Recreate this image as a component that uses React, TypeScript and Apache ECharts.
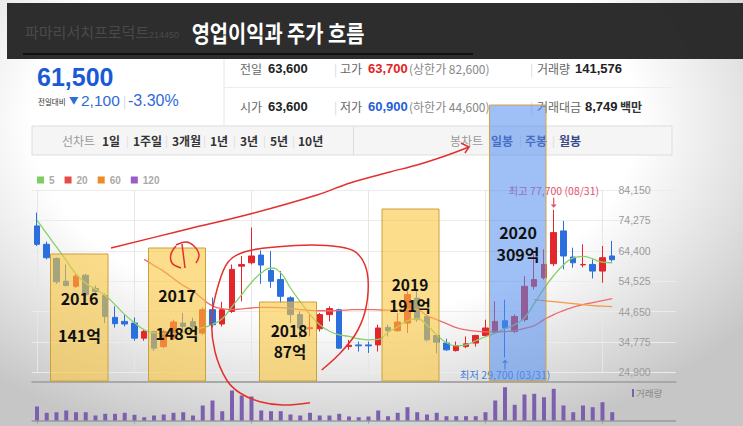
import React, { useEffect, useRef } from 'react';
import * as echarts from 'echarts';

// ---------- data ----------
const months = [
  '2016.03','2016.04','2016.05','2016.06','2016.07','2016.08','2016.09','2016.10','2016.11','2016.12',
  '2017.01','2017.02','2017.03','2017.04','2017.05','2017.06','2017.07','2017.08','2017.09','2017.10','2017.11','2017.12',
  '2018.01','2018.02','2018.03','2018.04','2018.05','2018.06','2018.07','2018.08','2018.09','2018.10','2018.11','2018.12',
  '2019.01','2019.02','2019.03','2019.04','2019.05','2019.06','2019.07','2019.08','2019.09','2019.10','2019.11','2019.12',
  '2020.01','2020.02','2020.03','2020.04','2020.05','2020.06','2020.07','2020.08','2020.09','2020.10','2020.11','2020.12',
  '2021.01','2021.02',
];
const padCats = ['p1', 'p2', 'p3', 'p4', 'p5', 'p6'];
const yearMarks = ['2016.03', '2017.01', '2018.01', '2019.01', '2020.01', '2021.01'];

const openP = [72480,66500,61900,54500,52850,56450,52100,49850,42750,41450,
  40900,36000,38150,33250,36000,40900,41350,37650,45250,40600,44700,59400,
  60500,63000,58000,55050,49100,43650,39050,39050,43650,45250,33250,33800,
  33800,33800,39500,38400,40900,49000,43050,36850,34400,31950,33250,34400,
  36850,37950,41650,38150,42000,52850,55600,60200,70850,62350,59800,59950,
  57800,62700];
const closeP = [66500,62150,54300,53100,56150,50150,51150,43050,40700,40600,
  36000,38150,32750,38150,41250,39800,39700,45250,40350,45250,58350,59950,
  62700,59750,54500,49600,43650,39300,39400,43650,45600,32750,33700,33500,
  33500,39300,38400,41250,50150,42000,35450,34700,32200,33600,34150,36850,
  39300,41450,39300,43050,52850,55050,59950,70300,62700,60500,59950,57800,
  62150,61500];
const lowP = [65950,61600,53650,52850,52350,49600,49850,40900,39450,39800,
  35150,35150,31850,32750,35450,38150,38050,37100,39400,39800,44200,47950,
  59950,53650,52350,47450,40900,36000,36550,38150,41450,32500,32200,31650,
  31200,31650,36550,38150,37650,41350,34900,31100,31850,31650,32750,33250,
  36550,37300,29700,37650,41350,51800,55050,59400,58350,58900,59000,55400,
  54000,60900];
const highP = [76800,67400,62200,59950,56900,56900,53100,50500,46350,43650,
  42750,38700,38400,38700,42000,44200,42650,45900,49200,47800,59950,62700,
  71950,64550,64300,57800,49600,44700,44200,44200,46350,45600,35450,34900,
  34900,40350,40350,44200,51250,52000,43650,37100,35800,34900,36550,37100,
  42000,47950,48500,43650,56150,63250,64850,77700,74100,65400,66500,61600,
  65950,67600];
const volume = [140000,77000,83000,100000,83000,83000,50000,67000,67000,77000,
  57000,33000,50000,60000,77000,83000,50000,150000,200000,93000,
  300000,250000,240000,100000,93000,93000,60000,50000,77000,50000,
  50000,67000,40000,33000,40000,100000,43000,77000,133000,83000,
  60000,77000,43000,43000,43000,43000,83000,200000,333000,157000,
  260000,267000,233000,317000,150000,83000,150000,133000,183000,83000];

const ma5 = [74350,69950,65650,61250,56850,53850,51950,49850,46900,43650,
  41000,38700,37750,37400,37550,37900,38800,39400,40500,42300,
  46250,50150,54100,57200,58800,57200,52300,47850,43650,40350,
  38250,37100,36550,35800,35450,35600,37900,39700,41650,42300,
  40200,37100,34500,33500,33800,35150,36450,37600,39050,40350,
  42650,47200,52100,56350,59800,62100,62600,61750,60700,60500];
const ma20 = [null,null,null,null,null,null,null,null,null,null,null,
  61600,59650,57700,55400,53100,51300,48700,46500,45600,45300,
  45500,45800,46000,46000,45900,45600,45300,45000,44900,44900,
  45000,45200,45300,45300,45200,45100,45200,45400,45300,43300,
  42000,40700,39400,38700,38250,38050,38050,38150,38400,39200,
  40050,42000,43650,44950,46100,46900,47550,48200,48850];
const ma60 = [null,null,null,null,null,null,null,null,null,null,
  null,null,null,null,null,null,null,null,null,null,
  null,null,null,null,null,null,null,null,null,null,
  null,null,null,null,null,null,null,null,null,null,
  null,null,null,null,null,null,null,null,null,null,
  null,48550,48200,47850,47550,47200,46900,46550,46400,46250];

const priceMin = 24900;
const priceMax = 84150;
const priceStep = 9875;
const hiDate = '08/31';
const loDate = '03/31';

// ---------- helpers ----------
const KR = '"Noto Sans CJK KR", "Noto Sans", sans-serif';
const NUM = '"Liberation Sans", Arial, sans-serif';
const fmt = (v: number) => v.toLocaleString('en-US');

function T(x: number, y: number, text: string, size: number, fill: string, o: any = {}) {
  const align = o.align || 'left';
  return {
    type: 'text', x, y, z: o.z ?? 20, scaleX: o.scaleX ?? 1, silent: true,
    style: {
      text, fill, fontSize: size, fontWeight: o.bold ? 'bold' : 'normal',
      fontFamily: o.font || KR, align, textAlign: align,
      verticalAlign: 'middle', textVerticalAlign: 'middle',
    },
  };
}
function R(x: number, y: number, w: number, h: number, fill: string, stroke: string | null, z: number, lw = 1) {
  return { type: 'rect', z, silent: true, shape: { x, y, width: w, height: h }, style: { fill, stroke: stroke || 'none', lineWidth: lw } };
}
function L(x1: number, y1: number, x2: number, y2: number, stroke: string, z: number, lw = 1) {
  return { type: 'line', z, silent: true, shape: { x1, y1, x2, y2 }, style: { stroke, lineWidth: lw } };
}
function P(points: number[][], z = 45, smooth = 0.35) {
  return { type: 'polyline', z, silent: true, shape: { points, smooth }, style: { stroke: '#e4302c', lineWidth: 1.5, fill: 'none' } };
}

const hiIdx = highP.indexOf(Math.max(...highP));
const loIdx = lowP.indexOf(Math.min(...lowP));

export default function App() {
  const ref = useRef<HTMLDivElement>(null);
  useEffect(() => {
    const chart = echarts.init(ref.current!, null, { renderer: 'svg' });
    const cats = months.concat(padCats);
    const yellow = 'rgba(248,198,64,0.6)';
    const yellowB = '#c9a23a';
    const blue = 'rgba(80,140,240,0.55)';

    const graphics: any[] = [
      // header
      L(224, 57, 224, 126, '#e6e6e6', 5),
      L(224, 87.5, 672, 87.5, '#eeeeee', 5),
      T(37, 77, '61,500', 25, '#1a5ad7', { bold: true, font: NUM }),
      T(38, 101, '전일대비', 7.5, '#333'),
      T(69, 100, '▼', 9.5, '#2f6ad8'),
      T(81, 100, '2,100', 15.5, '#2f6ad8', { font: NUM }),
      T(123, 100, '|', 12, '#d0d0d0'),
      T(128, 100, '-3.30%', 16, '#2f6ad8', { font: NUM }),
      T(240, 68, '전일', 12, '#666'),
      T(268, 68, '63,600', 13, '#222', { bold: true, font: NUM }),
      T(334, 68, '|', 12, '#d5d5d5'),
      T(340, 68, '고가', 12, '#666'),
      T(368, 68, '63,700', 13, '#e02424', { bold: true, font: NUM }),
      T(409, 68, '(상한가 82,600)', 12, '#888'),
      T(530, 68, '|', 12, '#d5d5d5'),
      T(537, 68, '거래량', 12, '#666'),
      T(575, 68, '141,576', 13, '#222', { bold: true, font: NUM }),
      T(240, 106, '시가', 12, '#666'),
      T(268, 106, '63,600', 13, '#222', { bold: true, font: NUM }),
      T(334, 106, '|', 12, '#d5d5d5'),
      T(340, 106, '저가', 12, '#666'),
      T(368, 106, '60,900', 13, '#1f5fd6', { bold: true, font: NUM }),
      T(409, 106, '(하한가 44,600)', 12, '#888'),
      T(530, 106, '|', 12, '#d5d5d5'),
      T(537, 106, '거래대금', 12, '#666'),
      T(585, 106, '8,749', 13, '#222', { bold: true, font: NUM }),
      T(620, 106, '백만', 12, '#333', { bold: true }),
      // tab bar
      R(32, 126, 640, 29, '#f5f5f6', '#dddddd', 4),
      L(353.5, 126, 353.5, 155, '#dddddd', 5),
      T(62, 140, '선차트', 12, '#999'),
      T(102, 140, '1일', 12, '#333', { bold: true }),
      T(126, 140, '|', 11, '#dcdcdc'),
      T(133, 140, '1주일', 12, '#333', { bold: true }),
      T(165, 140, '|', 11, '#dcdcdc'),
      T(172, 140, '3개월', 12, '#333', { bold: true }),
      T(203, 140, '|', 11, '#dcdcdc'),
      T(210, 140, '1년', 12, '#333', { bold: true }),
      T(233, 140, '|', 11, '#dcdcdc'),
      T(240, 140, '3년', 12, '#333', { bold: true }),
      T(263, 140, '|', 11, '#dcdcdc'),
      T(270, 140, '5년', 12, '#333', { bold: true }),
      T(292, 140, '|', 11, '#dcdcdc'),
      T(298, 140, '10년', 12, '#333', { bold: true }),
      T(450, 140, '봉차트', 12, '#999'),
      T(491, 140, '일봉', 12, '#3b4a8c', { bold: true }),
      T(519, 140, '|', 11, '#dcdcdc'),
      T(525, 140, '주봉', 12, '#3b4a8c', { bold: true }),
      T(552, 140, '|', 11, '#dcdcdc'),
      T(559, 140, '월봉', 12, '#3b4a8c', { bold: true }),
      // volume label
      R(632, 389, 2, 8, '#7d5fb0', null, 20),
      T(636, 393, '거래량', 9.5, '#888'),
      // yearly boxes
      R(50.5, 254, 57.5, 127, yellow, yellowB, 30),
      R(148.5, 248, 57, 133, yellow, yellowB, 30),
      R(259.5, 302, 57, 79, yellow, yellowB, 30),
      R(382, 209, 57, 172, yellow, yellowB, 30),
      R(489.5, 105, 56.5, 276, blue, '#d6a23c', 30),
      T(79.5, 298, '2016', 16, '#111', { bold: true, align: 'center', z: 40 }),
      T(79.5, 335, '141억', 16, '#111', { bold: true, align: 'center', z: 40 }),
      T(177, 295, '2017', 16, '#111', { bold: true, align: 'center', z: 40 }),
      T(177, 333, '148억', 16, '#111', { bold: true, align: 'center', z: 40 }),
      T(289, 330, '2018', 15.5, '#111', { bold: true, align: 'center', z: 40 }),
      T(290, 351, '87억', 15.5, '#111', { bold: true, align: 'center', z: 40 }),
      T(410, 284, '2019', 15.5, '#111', { bold: true, align: 'center', z: 40 }),
      T(410, 305, '191억', 15.5, '#111', { bold: true, align: 'center', z: 40 }),
      T(518, 232, '2020', 16, '#111', { bold: true, align: 'center', z: 40 }),
      T(518, 254, '309억', 16, '#111', { bold: true, align: 'center', z: 40 }),
      // red hand drawn strokes
      P([[111, 248], [180, 231], [250, 214], [317, 195], [350, 183], [390, 172], [417, 165], [445, 156], [469, 147]]),
      P([[461, 143], [469, 147], [465, 153]], 45, 0),
      P([[310, 402.7], [283, 405], [260, 401.7], [240, 393], [226.7, 380], [215, 351.7], [211.7, 318.3], [218.3, 285], [228.3, 261.7], [245, 251.7], [278.3, 246.7], [311.7, 245], [338.3, 246.7], [355, 251.7], [365, 265], [368.3, 285], [365, 311.7], [355, 335], [338.3, 355], [321.7, 370]]),
      P([[176, 246], [171, 254], [172, 263], [181, 268]]),
      P([[182, 244], [183.5, 256], [185, 268]]),
      P([[176, 245], [186, 242], [194, 246], [199, 255], [196, 263]]),
      // title banner
      R(7, 3, 736, 56, 'rgba(34,34,34,0.95)', null, 50),
      T(25, 31, '파마리서치프로덕트', 15, '#4a4a4a', { z: 51 }),
      T(149, 35, '214450', 9, '#4a4a4a', { z: 51, font: NUM }),
      L(23, 54, 473, 54, '#111', 51, 2),
      T(278, 32, '영업이익과 주가 흐름', 23, '#ffffff', { bold: true, align: 'center', z: 55, scaleX: 0.86 }),
    ];

    const option: any = {
      animation: false,
      legend: {
        data: ['5', '20', '60', '120'], left: 37, top: 175, itemWidth: 7, itemHeight: 7, itemGap: 10,
        icon: 'rect', selectedMode: false, padding: 0,
        textStyle: { color: '#aaaaaa', fontSize: 10, fontWeight: 'bold', fontFamily: NUM },
      },
      grid: [
        { left: 32.1, right: 67.4, top: 190, height: 182.3 },
        { left: 32.1, right: 67.4, top: 385, height: 35.5 },
      ],
      xAxis: [
        {
          type: 'category', data: cats, gridIndex: 0, boundaryGap: true, offset: 9,
          axisLine: { show: true, lineStyle: { color: '#a8a8a8', width: 2 } },
          axisTick: { show: false }, axisLabel: { show: false }, splitLine: { show: false },
        },
        {
          type: 'category', data: cats, gridIndex: 1, boundaryGap: true,
          axisLine: { show: true, lineStyle: { color: '#9a9a9a', width: 1.5 } },
          axisTick: {
            show: true, alignWithLabel: true, length: 3, lineStyle: { color: '#999' },
            interval: (_i: number, v: string) => yearMarks.indexOf(v) >= 0,
          },
          axisLabel: { show: false }, splitLine: { show: false },
        },
      ],
      yAxis: [
        {
          type: 'value', gridIndex: 0, position: 'right', min: priceMin, max: priceMax, interval: priceStep,
          axisLine: { show: false }, axisTick: { show: false },
          axisLabel: { inside: true, margin: 25, color: '#9a9a9a', fontSize: 10.5, fontFamily: NUM, formatter: (v: number) => fmt(v) },
          splitLine: { lineStyle: { color: '#ececec' } },
        },
        { type: 'value', gridIndex: 1, min: 0, max: 355000, show: false },
      ],
      series: [
        {
          name: 'K', type: 'candlestick', xAxisIndex: 0, yAxisIndex: 0, barWidth: 6,
          data: months.map((_, i) => [openP[i], closeP[i], lowP[i], highP[i]]),
          itemStyle: { color: '#e3262b', color0: '#2b6fde', borderColor: '#e3262b', borderColor0: '#2b6fde', borderWidth: 1 },
          markLine: {
            silent: true, z: 1, symbol: ['none', 'none'], label: { show: false },
            lineStyle: { color: '#e6e6e6', width: 1, type: 'solid' },
            data: yearMarks.map((c) => ({ xAxis: c })),
          },
          markPoint: {
            silent: true,
            data: [
              {
                coord: [months[hiIdx], highP[hiIdx]],
                symbol: 'path://M4.4,0 L5.6,0 L5.6,8 L8,8 L5,12 L2,8 L4.4,8 Z', symbolSize: [6, 10], symbolOffset: [0, -7],
                itemStyle: { color: '#e2506a' },
                label: { show: true, position: 'top', distance: 2, color: '#e2506a', fontSize: 10.5, fontFamily: KR, formatter: `최고 ${fmt(highP[hiIdx])} (${hiDate})` },
              },
              {
                coord: [months[loIdx], lowP[loIdx]],
                symbol: 'path://M5,0 L8,4 L5.6,4 L5.6,12 L4.4,12 L4.4,4 L2,4 Z', symbolSize: [6, 10], symbolOffset: [0, 7],
                itemStyle: { color: '#3f7fd9' },
                label: { show: true, position: 'bottom', distance: 0, color: '#3f7fd9', fontSize: 10.5, fontFamily: KR, formatter: `최저 ${fmt(lowP[loIdx])} (${loDate})` },
              },
            ],
          },
        },
        { name: '5', type: 'line', data: ma5, smooth: true, showSymbol: false, symbol: 'none', itemStyle: { color: '#7fcd62' }, lineStyle: { color: '#86d06a', width: 1.3 } },
        { name: '20', type: 'line', data: ma20, smooth: true, showSymbol: false, symbol: 'none', itemStyle: { color: '#e84a4a' }, lineStyle: { color: '#ef6a6a', width: 1.3 } },
        { name: '60', type: 'line', data: ma60, smooth: true, showSymbol: false, symbol: 'none', itemStyle: { color: '#f08a24' }, lineStyle: { color: '#f39a45', width: 1.3 } },
        { name: '120', type: 'line', data: [], showSymbol: false, symbol: 'none', itemStyle: { color: '#9a5cc8' }, lineStyle: { color: '#9a5cc8' } },
        { name: 'vol', type: 'bar', xAxisIndex: 1, yAxisIndex: 1, data: volume, barWidth: 4, itemStyle: { color: '#7d5fb0' } },
      ],
      graphic: { elements: graphics },
    };
    chart.setOption(option);
    return () => chart.dispose();
  }, []);
  return (
    <div
      ref={ref}
      style={{
        position: 'absolute', left: 0, top: 0, width: 743, height: 426,
        background: 'radial-gradient(ellipse 70% 80% at 45% 28%, #ffffff 58%, #c6c6c6 100%)',
      }}
    />
  );
}
